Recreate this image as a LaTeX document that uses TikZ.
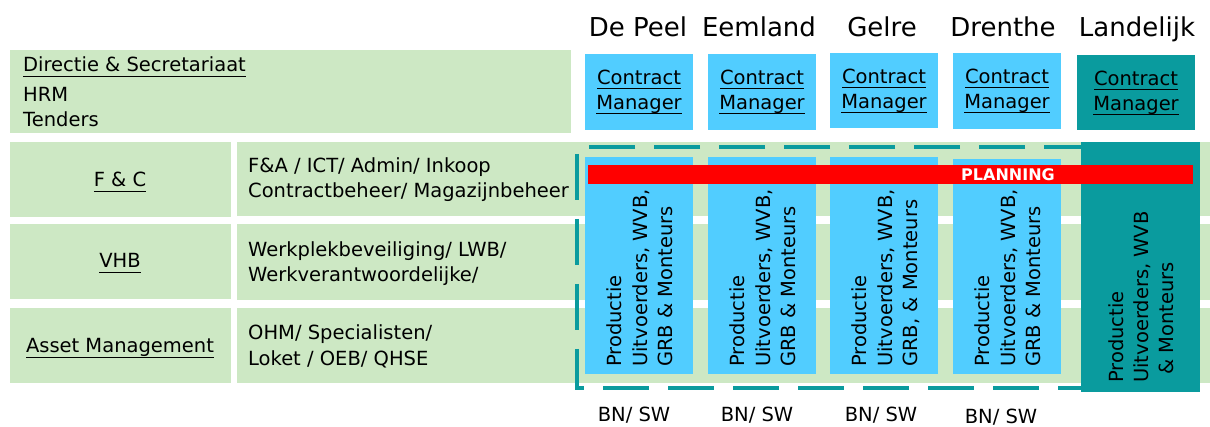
\documentclass[tikz,border=0pt]{standalone}
\usepackage{fontspec}
\setmainfont{DejaVu Sans}
\newsavebox{\myulbox}
\newcommand{\myul}[1]{\leavevmode\sbox{\myulbox}{#1}\rlap{\rule[-5pt]{\wd\myulbox}{1.4pt}}\usebox{\myulbox}}
\definecolor{grn}{HTML}{CDE8C4}
\definecolor{blu}{HTML}{51CDFF}
\definecolor{tea}{HTML}{0A9B9E}
\begin{document}
\begin{tikzpicture}[x=1pt,y=-1pt,
  body/.style={font=\fontsize{19.5}{25}\selectfont, inner sep=0pt},
  head/.style={font=\fontsize{26}{30}\selectfont, inner sep=0pt, anchor=base},
  vtext/.style={body, rotate=90, anchor=base west},
  cmtext/.style={body, align=center},
  bnsw/.style={body, anchor=base},
]
\useasboundingbox (0,0) rectangle (1210,427);
% green boxes
\fill[grn] (10,50) rectangle (571,133);
\fill[grn] (10,142) rectangle (231,217);
\fill[grn] (10,224) rectangle (231,299);
\fill[grn] (10,308) rectangle (231,383);
\fill[grn] (237,142) rectangle (1210,216);
\fill[grn] (237,224) rectangle (1210,300);
\fill[grn] (237,308) rectangle (1210,383);
% dashed frame
\draw[tea, line width=4pt, dash pattern=on 46pt off 19pt] (1090,147) -- (577,147) -- (577,388) -- (1090,388);
% contract manager boxes
\fill[blu] (585,54) rectangle (693,130);
\fill[blu] (708,54) rectangle (816,130);
\fill[blu] (830,53) rectangle (938,128);
\fill[blu] (953,53) rectangle (1061,129);
\fill[tea] (1077,55) rectangle (1195,130);
% production boxes
\fill[blu] (585,157) rectangle (693,374);
\fill[blu] (708,157) rectangle (816,374);
\fill[blu] (830,157) rectangle (938,374);
\fill[blu] (953,159) rectangle (1061,374);
\fill[tea] (1081,142) rectangle (1200,392);
% planning bar
\fill[red] (588,165) rectangle (1193,184);
\node[font=\bfseries\fontsize{16}{16}\selectfont, text=white, inner sep=0pt] (plan) at (1008,175) {PLANNING};

% left texts
\node[body, anchor=base west] (dir) at (23,72) {\myul{Directie \& Secretariaat}};
\node[body, anchor=base west] (hrm) at (23,102) {HRM};
\node[body, anchor=base west] (tend) at (23,127) {Tenders};
\node[body, anchor=base] (fc) at (120,187) {\myul{F \& C}};
\node[body, anchor=base] (vhb) at (120,268) {\myul{VHB}};
\node[body, anchor=base] (am) at (120,353) {\myul{Asset Management}};
\node[body, anchor=base west] (fa1) at (248,173) {F\&A / ICT/ Admin/ Inkoop};
\node[body, anchor=base west] (fa2) at (248,198) {Contractbeheer/ Magazijnbeheer};
\node[body, anchor=base west] (wp1) at (248,257) {Werkplekbeveiliging/ LWB/};
\node[body, anchor=base west] (wp2) at (248,282) {Werkverantwoordelijke/};
\node[body, anchor=base west] (oh1) at (248,340) {OHM/ Specialisten/};
\node[body, anchor=base west] (oh2) at (248,366) {Loket / OEB/ QHSE};

% headers
\node[head] (h1) at (638,37) {De Peel};
\node[head] (h2) at (759,37) {Eemland};
\node[head] (h3) at (882,37) {Gelre};
\node[head] (h4) at (1003,37) {Drenthe};
\node[head] (h5) at (1137,37) {Landelijk};

% contract managers
\node[cmtext] (cm1) at (639,92) {\myul{Contract}\\\myul{Manager}};
\node[cmtext] (cm2) at (762,92) {\myul{Contract}\\\myul{Manager}};
\node[cmtext] (cm3) at (884,91) {\myul{Contract}\\\myul{Manager}};
\node[cmtext] (cm4) at (1007,91) {\myul{Contract}\\\myul{Manager}};
\node[cmtext] (cm5) at (1136,93) {\myul{Contract}\\\myul{Manager}};

% production texts
\node[vtext] (p1a) at (621,367) {Productie};
\node[vtext] (p1b) at (647,367) {Uitvoerders, WVB,};
\node[vtext] (p1c) at (672,367) {GRB \& Monteurs};
\node[vtext] (p2a) at (744,367) {Productie};
\node[vtext] (p2b) at (770,367) {Uitvoerders, WVB,};
\node[vtext] (p2c) at (795,367) {GRB \& Monteurs};
\node[vtext] (p3a) at (866,367) {Productie};
\node[vtext] (p3b) at (892,367) {Uitvoerders, WVB,};
\node[vtext] (p3c) at (917,367) {GRB, \& Monteurs};
\node[vtext] (p4a) at (989,367) {Productie};
\node[vtext] (p4b) at (1015,367) {Uitvoerders, WVB,};
\node[vtext] (p4c) at (1040,367) {GRB \& Monteurs};
\node[vtext] (p5a) at (1123,383) {Productie};
\node[vtext] (p5b) at (1148,383) {Uitvoerders, WVB};
\node[vtext] (p5c) at (1173,375) {\& Monteurs};

% BN/SW
\node[bnsw] (b1) at (634,421) {BN/ SW};
\node[bnsw] (b2) at (757,421) {BN/ SW};
\node[bnsw] (b3) at (881,421) {BN/ SW};
\node[bnsw] (b4) at (1001,423) {BN/ SW};
\end{tikzpicture}
\end{document}
